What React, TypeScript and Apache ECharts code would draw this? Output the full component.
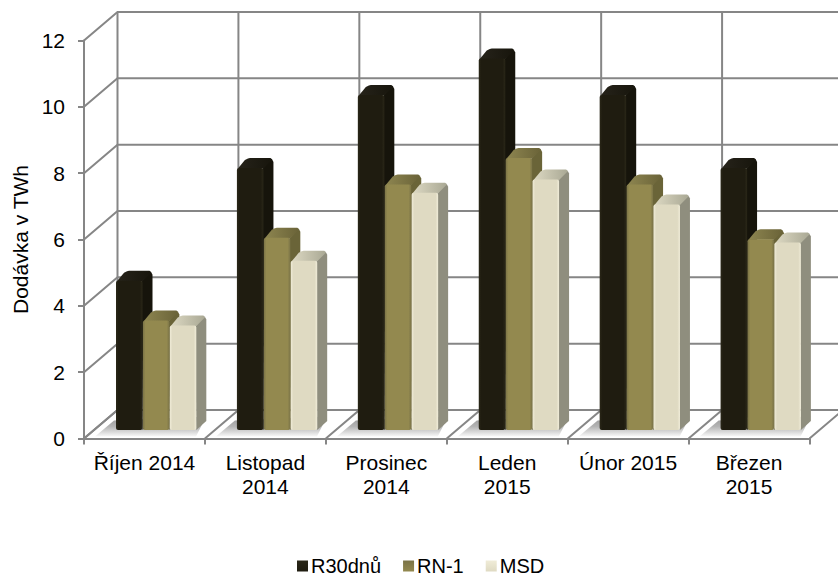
import React, { useEffect, useRef } from "react";
import * as echarts from "echarts";

const categories = ["Říjen 2014", "Listopad\n2014", "Prosinec\n2014", "Leden\n2015", "Únor 2015", "Březen\n2015"];
const r30dnu = [4.5, 7.9, 10.1, 11.2, 10.1, 7.9];
const rn1 = [3.3, 5.8, 7.4, 8.2, 7.4, 5.75];
const msd = [3.15, 5.1, 7.15, 7.55, 6.8, 5.65];
const yTicks = [0, 2, 4, 6, 8, 10, 12];
const names = ["R30dnů", "RN-1", "MSD"];

const GRAY = "#868686";
const DEPTH_X = 33.5;
const DEPTH_Y = 28.5;
const BAR_W = 26.5;
const BAR_GAP = 0.4;
const BAR_LEFT = 32; // from the category's left boundary
const BAR_LIFT = 8.5; // bar plane over the axis plane
const CAP = 10;

const palettes = [
  { edge: "#2a2718", front: "#1f1c10", side: "#16140b", top: "#26231a", topEnd: "#17150c" },
  { edge: "#7a7347", front: "#93894f", side: "#6a6438", top: "#8d8550", topEnd: "#6a6338" },
  { edge: "#f0ecd8", front: "#dfdac2", side: "#8f8e7e", top: "#dcd8c2", topEnd: "#a9a894" },
];

const lin = (a: string, b: string, horizontal = false) =>
  new echarts.graphic.LinearGradient(0, 0, horizontal ? 1 : 0, horizontal ? 0 : 1, [
    { offset: 0, color: a },
    { offset: 1, color: b },
  ]);

const barSeries = (name: string, values: number[], s: number) => {
  const p = palettes[s];
  return {
    name,
    type: "custom",
    z: 5 + s,
    itemStyle: { color: lin(p.edge, p.front) },
    encode: { x: 0, y: 1 },
    data: values.map((v, i) => [i, v]),
    renderItem: (_: any, api: any) => {
      const cell = api.size([1, 0])[0];
      const top = api.coord([api.value(0), api.value(1)]);
      const zero = api.coord([api.value(0), 0]);
      const x = top[0] - cell / 2 + BAR_LEFT + s * (BAR_W + BAR_GAP);
      const yTop = top[1] - BAR_LIFT;
      const yBase = zero[1] - BAR_LIFT;
      const w = BAR_W;
      return {
        type: "group",
        children: [
          {
            type: "polygon",
            shape: {
              points: [
                [x + w - 1, yTop + 1],
                [x + w + CAP - 3, yTop - CAP + 1],
                [x + w + CAP - 1, yTop - CAP + 2],
                [x + w + CAP, yTop - CAP + 4],
                [x + w + CAP, yBase - CAP + 1],
                [x + w, yBase],
              ],
            },
            style: { fill: p.side },
          },
          {
            type: "polygon",
            shape: {
              points: [
                [x + 1, yTop + 0.5],
                [x + CAP - 2, yTop - CAP + 2],
                [x + CAP + 1, yTop - CAP + 0.5],
                [x + CAP + 3, yTop - CAP],
                [x + w + CAP - 3, yTop - CAP],
                [x + w + CAP - 1, yTop - CAP + 1.5],
                [x + w, yTop + 0.5],
              ],
            },
            style: { fill: lin(p.top, p.topEnd, true) },
          },
          {
            type: "rect",
            shape: { x, y: yTop, width: w, height: yBase - yTop, r: 2 },
            style: {
              fill: new echarts.graphic.LinearGradient(0, 0, 1, 0, [
                { offset: 0, color: p.edge },
                { offset: 0.1, color: p.front },
                { offset: 0.9, color: p.front },
                { offset: 1, color: p.edge },
              ]),
            },
          },
        ],
      };
    },
  };
};

const wallHorizontals = {
  type: "custom",
  name: "wallH",
  z: 1,
  silent: true,
  encode: { x: 0, y: 1 },
  data: yTicks.map((t) => [0, t]),
  renderItem: (_: any, api: any) => {
    const cell = api.size([1, 0])[0];
    const p = api.coord([0, api.value(1)]);
    const x0 = p[0] - cell / 2;
    const y0 = p[1];
    const style = { stroke: GRAY, lineWidth: 2, fill: "none" };
    return {
      type: "polyline",
      shape: {
        points: [
          [x0, y0],
          [x0 + DEPTH_X, y0 - DEPTH_Y],
          [x0 + DEPTH_X + cell * categories.length, y0 - DEPTH_Y],
        ],
      },
      style,
    };
  },
};

const wallVerticals = {
  type: "custom",
  name: "wallV",
  z: 1,
  silent: true,
  encode: { x: 0, y: 1 },
  data: categories.map((_, i) => [i, 0]).concat([[categories.length - 1, 0]]),
  renderItem: (params: any, api: any) => {
    const cell = api.size([1, 0])[0];
    const p = api.coord([api.value(0), 0]);
    const t = api.coord([api.value(0), yTicks[yTicks.length - 1]]);
    const last = params.dataIndex === categories.length;
    const x0 = p[0] - cell / 2 + (last ? cell : 0);
    const style = { stroke: GRAY, lineWidth: 2, fill: "none" };
    const children: any[] = [
      {
        type: "polyline",
        shape: {
          points: [
            [x0, p[1]],
            [x0 + DEPTH_X, p[1] - DEPTH_Y],
            [x0 + DEPTH_X, t[1] - DEPTH_Y],
          ],
        },
        style,
      },
    ];
    if (!last) {
      children.unshift({
        type: "polygon",
        shape: {
          points: [
            [x0 + 11, p[1] - 2],
            [x0 + 30, p[1] - 18],
            [x0 + 122, p[1] - 22],
            [x0 + 112, p[1] - 2],
          ],
        },
        style: {
          fill: new echarts.graphic.LinearGradient(0, 0, 0, 1, [
            { offset: 0, color: "#969696" },
            { offset: 0.5, color: "#b4b4b4" },
            { offset: 1, color: "#f8f8f8" },
          ]),
        },
      });
    }
    return { type: "group", children };
  },
};

const textBase = { fontFamily: "Liberation Sans", color: "#000", fontSize: 21 };

export default function App() {
  const ref = useRef<HTMLDivElement>(null);
  useEffect(() => {
    const chart = echarts.init(ref.current!, null, { renderer: "svg" });
    chart.setOption({
      animation: false,
      backgroundColor: "#fff",
      grid: { left: 84, right: 28.5, top: 40.5, bottom: 137.5, containLabel: false },
      xAxis: {
        type: "category",
        data: categories,
        z: 3,
        axisLine: { lineStyle: { color: GRAY, width: 2 } },
        axisTick: { show: true, alignWithLabel: false, length: 6, lineStyle: { color: GRAY, width: 2 } },
        axisLabel: { ...textBase, interval: 0, margin: 12, lineHeight: 24 },
        splitLine: { show: false },
      },
      yAxis: {
        type: "value",
        min: 0,
        max: 12,
        interval: 2,
        z: 3,
        name: "Dodávka v TWh",
        nameLocation: "middle",
        nameGap: 53,
        nameTextStyle: { ...textBase },
        axisLine: { show: true, lineStyle: { color: GRAY, width: 2 } },
        axisTick: { show: true, length: 6, lineStyle: { color: GRAY, width: 2 } },
        axisLabel: { ...textBase, margin: 19 },
        splitLine: { show: false },
      },
      legend: {
        left: 297,
        top: 556,
        data: names,
        icon: "rect",
        itemWidth: 11,
        itemHeight: 11,
        itemGap: 22,
        padding: 0,
        textStyle: { ...textBase, fontSize: 20, padding: [0, 0, 0, -2] },
      },
      series: [
        wallHorizontals,
        wallVerticals,
        barSeries(names[0], r30dnu, 0),
        barSeries(names[1], rn1, 1),
        barSeries(names[2], msd, 2),
      ],
    });
    return () => chart.dispose();
  }, []);
  return (
    <div
      ref={ref}
      style={{ position: "fixed", left: 0, top: 0, width: 838, height: 576, background: "#fff" }}
    />
  );
}
